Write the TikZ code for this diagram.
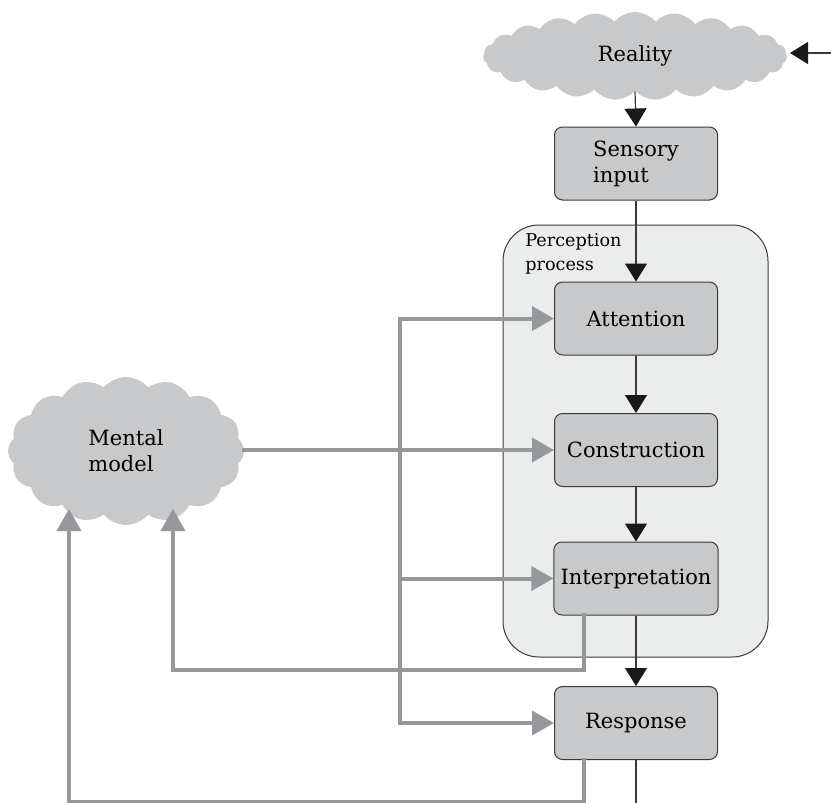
\documentclass[tikz,border=0pt]{standalone}
\usepackage{fontspec}
\setmainfont{DejaVu Serif}
\usetikzlibrary{arrows.meta,shapes.symbols}

\definecolor{boxgray}{HTML}{C8C9CB}
\definecolor{panelgray}{HTML}{EBECEC}
\definecolor{feedgray}{HTML}{97989B}
\definecolor{edgegray}{HTML}{3A3A3A}

\tikzset{
    stage/.style={draw=edgegray, line width=0.5pt, fill=boxgray, rounded corners=4pt,
        minimum width=81.5pt, minimum height=36.5pt, align=left,
        font=\fontsize{10.5}{13}\selectfont},
    puff/.style={cloud, cloud puffs=13, cloud puff arc=110, cloud ignores aspect,
        fill=boxgray, align=left, font=\fontsize{10.5}{13}\selectfont},
    flow/.style={draw=edgegray, line width=0.6pt, -{Triangle[length=9pt,width=11pt,color=black!90]}},
    feed/.style={draw=feedgray, line width=2pt, line cap=rect, -{Triangle[length=11pt,width=12pt]}}
}

\begin{document}
\begin{tikzpicture}[x=0.5pt, y=-0.5pt]
        \useasboundingbox (0,0) rectangle (831,803);

        % Perception panel behind the stages
        \draw[draw=edgegray, line width=0.5pt, fill=panelgray, rounded corners=18pt]
            (503,225) rectangle (768,657);
        \node[anchor=north west, align=left, font=\fontsize{8.8}{12}\selectfont, inner sep=0pt]
            (plabel) at (525,233) {Perception\\process};

        % Clouds
        \node[puff, cloud puffs=23, cloud puff arc=100, minimum width=152pt, minimum height=44pt]
            (reality) at (635,56) {Reality};
        \node[puff, cloud puffs=16, cloud puff arc=100, minimum width=118pt, minimum height=74pt]
            (mental) at (126,451) {Mental\\model};

        % Stages
        \node[stage] (sensory) at (636,163.5) {Sensory\\input};
        \node[stage] (attn) at (636,318.5) {Attention};
        \node[stage] (constr) at (636,450) {Construction};
        \node[stage] (interp) at (636,578.5) {Interpretation};
        \node[stage] (resp) at (636,723) {Response};

        % Main flow
        \coordinate (outside) at (831,53);
        \coordinate (intake) at (790,53);
        \draw[flow] (outside) -- (intake);
        \draw[flow] (reality.south) -- (sensory.north);
        \draw[flow] (sensory.south) -- (attn.north);
        \draw[flow] (attn.south) -- (constr.north);
        \draw[flow] (constr.south) -- (interp.north);
        \draw[flow] (interp.south) -- (resp.north);
        \coordinate (exit) at (636,803);
        \draw[flow, -] (resp.south) -- (exit);

        % Mental model feeds the stages
        \draw[feed] (mental.east |- constr.west) -- (constr.west);
        \coordinate (bustop) at (400,318.5);
        \coordinate (busbot) at (400,723);
        \draw[feed, -] (bustop) -- (busbot);
        \draw[feed] (bustop) -- (attn.west);
        \draw[feed] (bustop |- interp.west) -- (interp.west);
        \draw[feed] (busbot) -- (resp.west);

        % Feedback into the mental model
        \coordinate (backA) at (69,509);
        \coordinate (backB) at (173,509);
        \draw[feed] (584,615) |- (173,670) -- (backB);
        \draw[feed] (584,760) |- (69,802) -- (backA);
    \end{tikzpicture}
\end{document}
